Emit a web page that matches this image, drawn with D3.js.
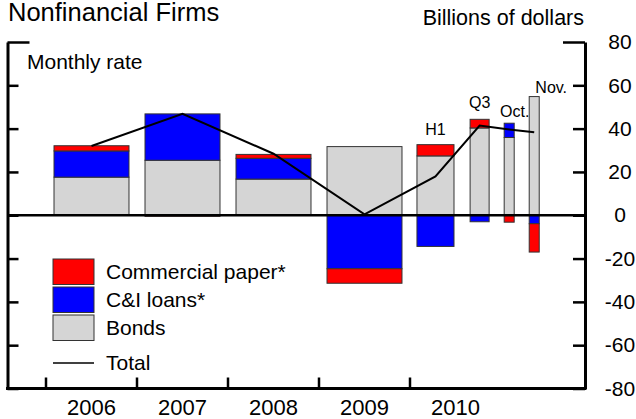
<!DOCTYPE html>
<html><head><meta charset="utf-8">
<script src="https://cdn.jsdelivr.net/npm/d3@7"></script>
<style>body{margin:0;background:#fff}svg{display:block}text{font-family:"Liberation Sans",Arial,sans-serif;fill:#000}</style>
</head><body><svg id="chart" width="636" height="419"></svg>
<script>
// ---- data ----
const periods = ["2006","2007","2008","2009","H1","Q3","Oct.","Nov."];
const bonds = [17.6, 25.4, 16.7, 31.7, 27.4, 40.3, 35.9, 54.8];
const ciLoans = [12.1, 21.4, 9.6, -24.7, -14.4, -3.0, 6.6, -3.9];
const commercialPaper = [2.4, -0.5, 1.8, -6.7, 5.2, 4.0, -3.2, -13.1];
const total = [32.0, 46.8, 28.4, 0.4, 17.9, 41.4, 39.6, 38.3];
const yearTicks = ["2006","2007","2008","2009","2010"];
const yTicks = [-80,-60,-40,-20,0,20,40,60,80];
const seriesNames = ["Commercial paper*","C&I loans*","Bonds","Total"];

// ---- layout (axis units) ----
const slotCenter = [2006.5, 2007.5, 2008.5, 2009.5, 2010.28, 2010.765, 2011.09, 2011.365];
const slotWidth = [0.824, 0.824, 0.824, 0.824, 0.407, 0.209, 0.11, 0.11];
const showLabel = [false,false,false,false,true,true,true,true];
const labelOffset = [[0,0],[0,0],[0,0],[0,0],[0,-10],[0,-11],[5.5,-6],[17,-4]];
const colors = {cp:"#ff0000", ci:"#0000ff", bonds:"#d5d5d5"};

const svg = d3.select("#chart");
const x = d3.scaleLinear().domain([2006, 2011]).range([46, 501]);
const y = d3.scaleLinear().domain([-80, 80]).range([388.5, 42]);
const xLeft = 7.5, xRight = 585;

// ---- bars ----
const rows = periods.map((p, i) => ({i, period: p, bonds: bonds[i], ci: ciLoans[i], cp: commercialPaper[i]}));
const stacked = d3.stack().keys(["bonds","ci","cp"]).offset(d3.stackOffsetDiverging)(rows);
stacked.forEach(s => {
  svg.append("g").selectAll("rect").data(s).join("rect")
    .attr("x", d => x(slotCenter[d.data.i] - slotWidth[d.data.i]/2))
    .attr("width", d => x(slotCenter[d.data.i] + slotWidth[d.data.i]/2) - x(slotCenter[d.data.i] - slotWidth[d.data.i]/2))
    .attr("y", d => y(Math.max(d[0], d[1])))
    .attr("height", d => Math.abs(y(d[0]) - y(d[1])))
    .attr("fill", colors[s.key])
    .attr("stroke", "#333").attr("stroke-width", 1);
});

// ---- zero line ----
svg.append("line").attr("x1", xLeft).attr("x2", xRight).attr("y1", y(0)).attr("y2", y(0))
  .attr("stroke", "#000").attr("stroke-width", 2.5);

// ---- total line ----
svg.append("path").datum(total)
  .attr("d", d3.line().x((d, i) => x(slotCenter[i])).y(d => y(d)))
  .attr("fill", "none").attr("stroke", "#000").attr("stroke-width", 2);

// ---- period labels ----
periods.forEach((p, i) => {
  if (!showLabel[i]) return;
  const top = d3.max(stacked, s => Math.max(s[i][0], s[i][1]));
  svg.append("text").attr("x", x(slotCenter[i]) + labelOffset[i][0]).attr("y", y(top) + labelOffset[i][1])
    .attr("text-anchor", "middle").style("font-size", "16px").text(p);
});

// ---- axes ----
const axisR = svg.append("g").attr("transform", `translate(${xRight},0)`)
  .call(d3.axisRight(y).tickValues(yTicks).tickSizeInner(-12).tickSizeOuter(0).tickPadding(0).tickFormat(d3.format("d")));
axisR.select(".domain").attr("stroke-width", 3).attr("stroke", "#000");
axisR.selectAll(".tick line").attr("stroke-width", 2.5).attr("stroke", "#000")
  .attr("x2", d => d === 80 ? -22 : -12);
axisR.selectAll(".tick text").attr("x", 35).attr("text-anchor", "middle")
  .style("font-size", "21px").style("font-family", "Liberation Sans, Arial, sans-serif")
  .text(d => d < 0 ? "-" + Math.abs(d) : d);

const axisL = svg.append("g").attr("transform", `translate(${xLeft},0)`)
  .call(d3.axisLeft(y).tickValues(yTicks).tickSizeInner(-11).tickSizeOuter(0).tickFormat(""));
axisL.select(".domain").attr("stroke-width", 3).attr("stroke", "#000");
axisL.selectAll(".tick line").attr("stroke-width", 2.5).attr("stroke", "#000")
  .attr("x2", d => d === 80 ? 22 : 11);

// bottom axis
svg.append("line").attr("x1", xLeft - 1.5).attr("x2", xRight + 1.5).attr("y1", y(-80)).attr("y2", y(-80))
  .attr("stroke", "#000").attr("stroke-width", 3);
const yr = yearTicks.map(Number);
svg.append("g").selectAll("line").data(yr).join("line")
  .attr("x1", d => x(d)).attr("x2", d => x(d)).attr("y1", y(-80)).attr("y2", y(-80) - 11)
  .attr("stroke", "#000").attr("stroke-width", 2.5);
svg.append("g").selectAll("text").data(yearTicks).join("text")
  .attr("x", d => x(+d + 0.5)).attr("y", 415).attr("text-anchor", "middle")
  .style("font-size", "22px").text(d => d);

// ---- titles ----
svg.append("text").attr("x", 8).attr("y", 21).style("font-size", "25.5px").text("Nonfinancial Firms");
svg.append("text").attr("x", 584).attr("y", 25).attr("text-anchor", "end").style("font-size", "21.5px").text("Billions of dollars");
svg.append("text").attr("x", 27).attr("y", 69).style("font-size", "21px").text("Monthly rate");

// ---- legend ----
const legendFill = [colors.cp, colors.ci, colors.bonds];
const legendY = [259, 287, 315];
legendFill.forEach((c, i) => {
  svg.append("rect").attr("x", 53).attr("y", legendY[i]).attr("width", 41).attr("height", 25.5)
    .attr("fill", c).attr("stroke", "#333").attr("stroke-width", 1);
  svg.append("text").attr("x", 106).attr("y", legendY[i] + 19.5).style("font-size", "21px").text(seriesNames[i]);
});
svg.append("line").attr("x1", 53).attr("x2", 94).attr("y1", 363).attr("y2", 363).attr("stroke", "#000").attr("stroke-width", 1.5);
svg.append("text").attr("x", 106).attr("y", 370).style("font-size", "21px").text(seriesNames[3]);
</script></body></html>
